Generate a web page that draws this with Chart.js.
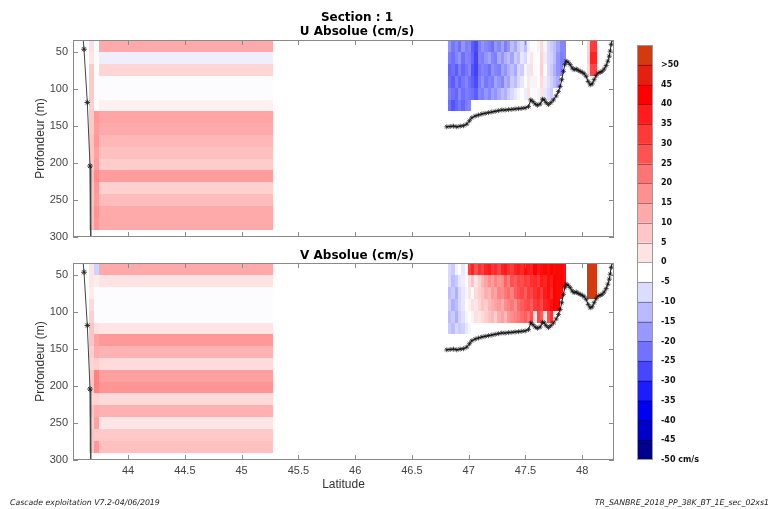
<!DOCTYPE html>
<html><head><meta charset="utf-8">
<script src="https://cdn.jsdelivr.net/npm/chart.js@4.4.0/dist/chart.umd.min.js"></script>
<style>
body{margin:0;background:#fff;width:773px;height:509px;position:relative;overflow:hidden;font-family:"Liberation Sans",Arial,sans-serif;}
.t{position:absolute;white-space:nowrap;color:#000;}
.h{font-family:"DejaVu Sans",sans-serif;font-weight:bold;font-size:12px;line-height:14px;left:207px;width:300px;text-align:center;}
.f{font-family:"DejaVu Sans",sans-serif;font-style:italic;font-size:7.8px;line-height:10px;top:498px;color:#222;}
canvas{position:absolute;}
</style></head><body>
<canvas id="cU" width="630" height="250" style="left:0;top:0"></canvas>
<canvas id="cV" width="630" height="265" style="left:0;top:245px"></canvas>
<canvas id="cBar" width="153" height="450" style="left:620px;top:30px"></canvas>
<div class="t h" style="top:10px;">Section : 1</div>
<div class="t h" style="top:24px;">U Absolue (cm/s)</div>
<div class="t h" style="top:248px;">V Absolue (cm/s)</div>
<div class="t f" style="left:10px;">Cascade exploitation V7.2-04/06/2019</div>
<div class="t f" style="right:4px;">TR_SANBRE_2018_PP_38K_BT_1E_sec_02xs1</div>
<script>
// ---------- axes ----------
const latMin = 43.515, latMax = 48.28;
const depthMin = 33.5, depthMax = 300;
const latTicks = [44, 44.5, 45, 45.5, 46, 46.5, 47, 47.5, 48];
const depthTicks = [50, 100, 150, 200, 250, 300];

// ---------- depth bins (top of each 16 m bin) ----------
const depthTops = [34, 50, 66, 82, 98, 114, 130, 146, 162, 178, 194, 210, 226, 242, 258, 274];
const binHeight = 16;

// ---------- left block: column edges (latitude) ----------
const leftEdges = [43.656, 43.700, 43.747, 45.277];
// U (cm/s), one array per column, one value per depth bin
const uLeftA    = [3, 2, 7, 7, 7, 6, 7, 7, 8, 8, 7, 9, 8, 8, 9, 9];
const uLeftB    = [-3, -3, -3, -3, -3, -2, 16, 15, 16, 14, 15, 18, 16, 15, 17, 16];
const uLeftMain = [12.5, -5, 4.8, -3, -3, 0, 13.5, 12.5, 10, 8.6, 6.4, 15.2, 5.7, 9.3, 12.5, 12.5];
// V (cm/s)
const vLeftA    = [2, 2, 1, 4, 6, 8, 8, 6, 5, 7, 7, 5, 8, 6, 8, 8];
const vLeftB    = [-9, 1, -3, -3, -3, 3, 14, 12, 6, 20, 20, 5, 12, 14, 7, 16];
const vLeftMain = [12.5, 2.5, -3, -3, -3, 2, 16, 11, 3.8, 14.5, 16.5, 4, 11.5, 2, 7, 8.5];

// ---------- right block: column edges (latitude) ----------
const rightEdges = [46.819, 46.848, 46.877, 46.906, 46.935, 46.964, 46.992, 47.021, 47.050, 47.079,
  47.108, 47.137, 47.166, 47.195, 47.224, 47.253, 47.281, 47.310, 47.339, 47.368, 47.397, 47.426,
  47.455, 47.484, 47.513, 47.542, 47.570, 47.599, 47.628, 47.657, 47.686, 47.715, 47.744, 47.773,
  47.802, 47.831, 47.859];
// U rows (depth bins 0..5), one value per column
const uRight0 = [-18,-22,-20,-23,-18,-21,-20,-25,-27,-21,-18,-20,-21,-23,-18,-20,-16,-21,-18,-12,-15,-10,-8,-12,-5,-3,-2,-4,4,-4,-8,-10,-12,-16,-20,-20];
const uRight1 = [-21,-23,-20,-18,-23,-20,-21,-24,-28,-20,-21,-18,-16,-20,-21,-15,-18,-14,-12,-16,-10,-12,-6,-8,-4,2,-3,-2,5,-5,-8,-9,-12,-18,-21,-20];
const uRight2 = [-24,-23,-25,-21,-24,-22,-20,-26,-28,-22,-20,-21,-23,-18,-20,-21,-16,-18,-14,-12,-15,-8,-10,-4,-6,3,-2,-3,6,-3,-8,-10,-14,-18,-20,null];
const uRight3 = [-23,-25,-21,-24,-22,-20,-23,-25,-27,-21,-18,-22,-20,-21,-16,-18,-20,-14,-16,-10,-12,-8,-6,-3,2,-4,0,-2,4,-5,-7,-9,-12,-15,null,null];
const uRight4 = [-21,-23,-24,-20,-23,-21,-22,-23,-25,-20,-21,-18,-20,-16,-18,-15,-12,-14,-10,-8,-6,-4,-2,-5,3,-3,-2,-4,2,-6,-8,-10,null,null,null,null];
const uRight5 = [-23,-26,-24,-22,-24,-21,-20,null,null,null,null,null,null,null,null,null,null,null,null,null,null,null,null,null,null,null,null,null,null,null,null,null,null,null,null,null];
// V rows
const vRight0 = [-8,-10,-4,-2,-6,-3,32,36,28,34,30,36,38,32,35,30,36,38,34,32,36,38,35,40,38,36,42,38,40,44,40,42,45,44,42,40];
const vRight1 = [-8,-12,-10,-6,-5,-3,4,8,2,6,10,14,18,15,20,16,18,25,20,28,26,30,28,32,30,34,35,32,38,36,40,38,42,44,42,40];
const vRight2 = [-12,-10,-14,-8,-6,-4,2,-2,4,6,8,12,10,16,14,20,18,22,24,20,26,28,30,26,32,30,34,36,32,38,40,36,42,44,40,null];
const vRight3 = [-10,-14,-12,-8,-6,-2,0,3,2,5,8,6,10,12,14,16,12,18,20,22,18,24,26,28,30,26,32,34,30,36,38,40,42,44,null,null];
const vRight4 = [-12,-10,-14,-9,-7,-4,-2,0,3,2,4,6,8,10,6,12,14,10,16,18,20,22,24,26,22,28,3,30,26,3,28,34,null,null,null,null];
const vRight5 = [-10,-12,-8,-10,-9,-6,-4,null,null,null,null,null,null,null,null,null,null,null,null,null,null,null,null,null,null,null,null,null,null,null,null,null,null,null,null,null];

// ---------- isolated columns near 48.1 ----------
const extraEdges = [48.041, 48.070, 48.132];
const uExtraA = [5, 6, 4];
const uExtraB = [32, 36, 30];
const vExtraA = [55, 55, 55];
const vExtraB = [55, 55, 55];

// ---------- bottom track ----------
const trackLat = [46.807,46.837,46.866,46.895,46.925,46.954,46.983,47.007,47.028,47.057,47.086,47.116,47.145,47.174,47.204,47.233,47.262,47.292,47.321,47.350,47.380,47.409,47.439,47.468,47.497,47.527,47.547,47.565,47.586,47.606,47.630,47.650,47.665,47.682,47.703,47.724,47.747,47.771,47.791,47.806,47.820,47.835,47.847,47.859,47.876,47.894,47.912,47.929,47.947,47.964,47.982,48.000,48.017,48.035,48.052,48.070,48.088,48.105,48.123,48.141,48.158,48.176,48.194,48.211,48.226,48.238,48.246,48.255,48.264];
const trackDepth = [150.9,150.5,150,150.9,150,149.5,147.3,142.7,138.6,136.4,135,133.6,132.7,131.8,130.9,130,129.1,128.2,128.2,127.7,127.3,126.8,126.4,125.9,125.4,123.6,114.5,116.8,120,121.8,120,113.6,114.5,118.2,120.9,118.2,114.5,109.1,103.2,96.3,87.2,75.9,66.8,62.2,63.6,66.8,71.3,73.6,72.7,74.5,75.9,77.2,79.1,82.7,89.5,94.1,92.7,87.2,81.8,78.1,77.2,75.9,72.7,68.1,62.2,55.4,48.6,39.5,32.7];
// ---------- profile line near 43.65 ----------
const profileLat = [43.605, 43.612, 43.641, 43.665, 43.671];
const profileDepth = [33.5, 46, 118, 204, 300];

// ---------- colour scale ----------
const cbEdges = [-50,-45,-40,-35,-30,-25,-20,-15,-10,-5,0,5,10,15,20,25,30,35,40,45,50,55];
const cbColors = ['#00008c','#0000c8','#0000f0','#1c1cff','#4646ff','#7272ff','#9898ff','#babaff','#dcdcff','#ffffff',
  '#ffe2e2','#ffc6c6','#ffaaaa','#ff9090','#ff7575','#ff5252','#ff3838','#ff1c1c','#ff0000','#e62010','#d43a10'];
const cbTicks = [-50,-45,-40,-35,-30,-25,-20,-15,-10,-5,0,5,10,15,20,25,30,35,40,45,50];

function hexToRgb(h){return [parseInt(h.slice(1,3),16),parseInt(h.slice(3,5),16),parseInt(h.slice(5,7),16)];}
const cbRgb = cbColors.map(hexToRgb);
const cbCenters = cbColors.map((c,k)=>(cbEdges[k]+cbEdges[k+1])/2);
function colorFor(v){
  const n = cbCenters.length;
  if (v <= cbCenters[0]) return cbColors[0];
  if (v >= cbCenters[n-1]) return cbColors[n-1];
  let k = 0; while (k < n-2 && v >= cbCenters[k+1]) k++;
  const t = (v - cbCenters[k]) / (cbCenters[k+1] - cbCenters[k]);
  const a = cbRgb[k], b = cbRgb[k+1];
  const m = a.map((x,i)=>Math.round(x + (b[i]-x)*t));
  return 'rgb(' + m.join(',') + ')';
}

// ---------- build cells ----------
function cellsFromColumns(edges, cols){
  const out = [];
  cols.forEach((col, i) => col.forEach((v, r) => {
    if (v === null) return;
    out.push({x0: edges[i], x1: edges[i+1], d0: depthTops[r], d1: depthTops[r] + binHeight, v});
  }));
  return out;
}
function cellsFromRows(edges, rows){
  const out = [];
  rows.forEach((row, r) => row.forEach((v, i) => {
    if (v === null) return;
    out.push({x0: edges[i], x1: edges[i+1], d0: depthTops[r], d1: depthTops[r] + binHeight, v});
  }));
  return out;
}
const heatCells = {
  cU: [].concat(cellsFromColumns(leftEdges, [uLeftA, uLeftB, uLeftMain]),
                cellsFromRows(rightEdges, [uRight0, uRight1, uRight2, uRight3, uRight4, uRight5]),
                cellsFromColumns(extraEdges, [uExtraA, uExtraB])),
  cV: [].concat(cellsFromColumns(leftEdges, [vLeftA, vLeftB, vLeftMain]),
                cellsFromRows(rightEdges, [vRight0, vRight1, vRight2, vRight3, vRight4, vRight5]),
                cellsFromColumns(extraEdges, [vExtraA, vExtraB]))
};

const heatPlugin = {
  id: 'heat',
  beforeDatasetsDraw(chart){
    const cells = heatCells[chart.canvas.id]; if (!cells) return;
    const {ctx, chartArea: a, scales: {x, y}} = chart;
    ctx.save(); ctx.beginPath(); ctx.rect(a.left, a.top, a.right - a.left, a.bottom - a.top); ctx.clip();
    for (const c of cells){
      const x0 = Math.round(x.getPixelForValue(c.x0)), x1 = Math.round(x.getPixelForValue(c.x1));
      const y0 = Math.round(y.getPixelForValue(c.d0)), y1 = Math.round(y.getPixelForValue(c.d1));
      ctx.fillStyle = colorFor(c.v);
      ctx.fillRect(x0, y0, x1 - x0, y1 - y0);
    }
    ctx.restore();
  }
};
const framePlugin = {
  id: 'frame',
  afterDraw(chart){
    const {ctx, chartArea: a, scales: {x, y}} = chart;
    ctx.save(); ctx.strokeStyle = '#8a8a8a'; ctx.lineWidth = 1;
    ctx.strokeRect(a.left + 0.5, a.top + 0.5, a.right - a.left - 1, a.bottom - a.top - 1);
    ctx.beginPath();
    for (const t of x.ticks){ const p = Math.round(x.getPixelForValue(t.value)) + 0.5;
      ctx.moveTo(p, a.bottom); ctx.lineTo(p, a.bottom - 5); ctx.moveTo(p, a.top); ctx.lineTo(p, a.top + 5); }
    for (const t of y.ticks){ const p = Math.round(y.getPixelForValue(t.value)) + 0.5;
      ctx.moveTo(a.left, p); ctx.lineTo(a.left + 5, p); ctx.moveTo(a.right, p); ctx.lineTo(a.right - 5, p); }
    ctx.stroke(); ctx.restore();
  }
};

const FONT = '"Liberation Sans", Arial, sans-serif';
function panel(id, padTop, xHeight, showX){
  return new Chart(document.getElementById(id), {
    type: 'scatter',
    data: { datasets: [
      { data: profileLat.map((v,i)=>({x:v, y:profileDepth[i]})), showLine: true,
        borderColor: '#444', borderWidth: 1, pointStyle: 'star',
        pointRadius: c => (c.dataIndex === 0 || c.dataIndex === profileLat.length - 1) ? 0 : 2.8,
        pointBorderColor: '#222', pointBorderWidth: 0.9 },
      { data: trackLat.map((v,i)=>({x:v, y:trackDepth[i]})), showLine: true,
        borderColor: '#222', borderWidth: 1, pointStyle: 'star', pointRadius: 2.5,
        pointBorderColor: '#111', pointBorderWidth: 0.7 }
    ]},
    options: {
      responsive: false, animation: false, devicePixelRatio: 1,
      layout: { padding: { left: 0, right: 16, top: padTop, bottom: 0 } },
      plugins: { legend: { display: false }, tooltip: { enabled: false } },
      scales: {
        x: { type: 'linear', min: latMin, max: latMax, position: 'bottom',
             grid: { display: false, drawTicks: false }, border: { display: false },
             afterBuildTicks: s => { s.ticks = latTicks.map(v => ({value: v})); },
             afterFit: s => { s.height = xHeight; },
             ticks: { display: showX, padding: 4, color: '#444', font: { family: FONT, size: 11 }, callback: v => String(v) },
             title: { display: showX, text: 'Latitude', color: '#333', font: { family: FONT, size: 12 }, padding: { top: 0, bottom: 18 } } },
        y: { type: 'linear', reverse: true, min: depthMin, max: depthMax,
             grid: { display: false, drawTicks: false }, border: { display: false },
             afterBuildTicks: s => { s.ticks = depthTicks.map(v => ({value: v})); },
             afterFit: s => { s.width = 73; },
             ticks: { padding: 5, color: '#444', font: { family: FONT, size: 11 }, callback: v => String(v) },
             title: { display: true, text: 'Profondeur (m)', color: '#333', font: { family: FONT, size: 12 }, padding: { top: 33, bottom: 0 } } }
      }
    },
    plugins: [heatPlugin, framePlugin]
  });
}
panel('cU', 40, 13, false);
panel('cV', 18, 50, true);

// ---------- colour bar ----------
const cbFrame = {
  id: 'cbframe',
  afterDraw(chart){
    const {ctx, chartArea: a, scales: {y}} = chart;
    ctx.save(); ctx.strokeStyle = 'rgba(0,0,0,0.35)'; ctx.lineWidth = 1; ctx.beginPath();
    for (let k = 1; k < cbEdges.length - 1; k++){ const p = Math.round(y.getPixelForValue(cbEdges[k])) + 0.5;
      ctx.moveTo(a.left, p); ctx.lineTo(a.right, p); }
    ctx.stroke();
    ctx.strokeStyle = '#999'; ctx.strokeRect(a.left + 0.5, a.top + 0.5, a.right - a.left - 1, a.bottom - a.top - 1);
    ctx.restore();
  }
};
new Chart(document.getElementById('cBar'), {
  type: 'bar',
  data: { labels: [''], datasets: cbColors.map((c,k) => ({ data: [[cbEdges[k], cbEdges[k+1]]], backgroundColor: c,
    grouped: false, barPercentage: 1, categoryPercentage: 1, borderWidth: 0 })) },
  options: {
    responsive: false, animation: false, devicePixelRatio: 1,
    layout: { padding: { left: 17, right: 0, top: 15, bottom: 20 } },
    plugins: { legend: { display: false }, tooltip: { enabled: false } },
    scales: {
      x: { type: 'category', display: false },
      y: { type: 'linear', position: 'right', min: -50, max: 55,
           grid: { display: false, drawTicks: false }, border: { display: false },
           afterBuildTicks: s => { s.ticks = cbTicks.map(v => ({value: v})); },
           afterFit: s => { s.width = 120; },
           ticks: { padding: 8, color: '#111', font: { family: '"DejaVu Sans", sans-serif', size: 8, weight: 'bold' },
                    callback: v => v === 50 ? '>50' : (v === -50 ? '-50 cm/s' : String(v)) } }
    }
  },
  plugins: [cbFrame]
});
</script>
</body></html>
